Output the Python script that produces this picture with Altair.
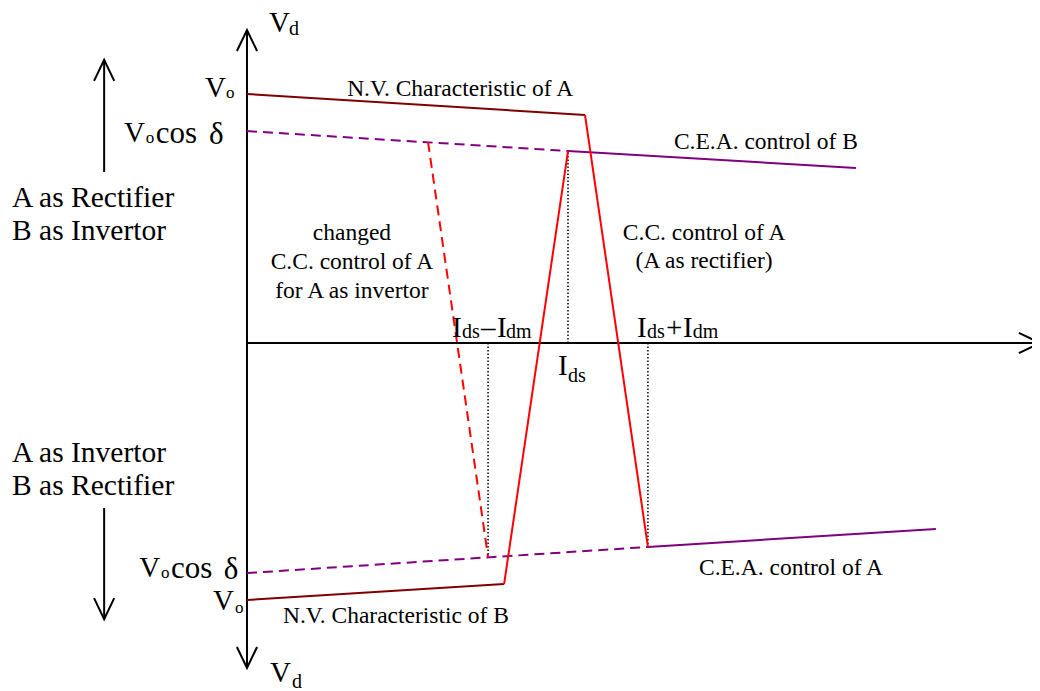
import altair as alt
import pandas as pd

# ---------------- data (current I in units of I_ds, voltage Vd in units of V_o) ----------------
nv_A_I, nv_A_V = [0.0, 1.053], [1.0, 0.916]                 # N.V. characteristic of A
cc_A_I, cc_A_V = [1.053, 1.249], [0.916, -0.819]            # C.C. control of A (rectifier)
cea_B_dash_I, cea_B_dash_V = [0.0, 1.0], [0.851, 0.771]     # C.E.A. of B (dashed part)
cea_B_I, cea_B_V = [1.0, 1.897], [0.771, 0.703]             # C.E.A. control of B
cc_B_I, cc_B_V = [0.801, 1.0], [-0.968, 0.771]              # rising C.C. line
chg_I, chg_V = [0.564, 0.751], [0.807, -0.859]              # changed C.C. control of A
nv_B_I, nv_B_V = [0.0, 0.801], [-1.032, -0.968]             # N.V. characteristic of B
cea_A_dash_I, cea_A_dash_V = [0.0, 1.249], [-0.924, -0.819] # C.E.A. of A (dashed part)
cea_A_I, cea_A_V = [1.249, 2.146], [-0.819, -0.747]         # C.E.A. control of A

# dotted drop lines at I_ds, I_ds-I_dm, I_ds+I_dm
drop_I = [1.0, 0.751, 1.249]
drop_V = [0.771, -0.859, -0.819]

# axes and side arrows
vaxis_I, vaxis_V = [0.0, 0.0], [1.257, -1.305]
haxis_I, haxis_V = [0.0, 2.470], [0.0, 0.0]
up_arrow_I, up_arrow_V = [-0.445, -0.445], [0.687, 1.137]
down_arrow_I, down_arrow_V = [-0.445, -0.445], [-0.663, -1.109]

# arrow tips
tip_up_I, tip_up_V = [0.0, -0.445], [1.257, 1.137]
tip_down_I, tip_down_V = [0.0, -0.445], [-1.305, -1.109]
tip_right_I, tip_right_V = [2.470], [0.0]

# symbol labels (main size)
sym_text = ["V", "V", "V", "V", "V", "V", "I", "–", "I", "I", "+", "I", "I"]
sym_I = [0.0685, -0.131, -0.383, -0.336, -0.106, 0.072,
         0.639, 0.729, 0.779, 1.215, 1.305, 1.358, 0.969]
sym_V = [1.249, 0.988, 0.807, -0.940, -1.072, -1.361,
         0.024, 0.024, 0.024, 0.024, 0.024, 0.024, -0.129]
# subscripts "d", "ds", "dm"
sub_text = ["d", "d", "ds", "dm", "ds", "dm", "ds"]
sub_I = [0.131, 0.140, 0.670, 0.807, 1.246, 1.389, 1.000]
sub_V = [1.237, -1.386, 0.020, 0.020, 0.020, 0.020, -0.157]
# subscripts "o"
subo_I = [-0.065, -0.315, -0.268, -0.037]
subo_V = [0.984, 0.803, -0.944, -1.084]
# "cos δ"
cos_text = ["cos", "δ", "cos", "δ"]
cos_I = [-0.284, -0.118, -0.237, -0.072]
cos_V = [0.803, 0.799, -0.944, -0.948]

# annotations (left aligned)
ann_text = ["N.V. Characteristic of A", "C.E.A. control of B",
            "N.V. Characteristic of B", "C.E.A. control of A"]
ann_I = [0.312, 1.330, 0.112, 1.408]
ann_V = [0.992, 0.779, -1.124, -0.932]
# annotations (centred)
cann_text = ["changed", "C.C. control of A", "for A as invertor",
             "C.C. control of A", "(A as rectifier)"]
cann_I = [0.327, 0.327, 0.327, 1.424, 1.424]
cann_V = [0.414, 0.297, 0.181, 0.414, 0.301]
# operating mode labels
mode_text = ["A as Rectifier", "B as Invertor", "A as Invertor", "B as Rectifier"]
mode_I = [-0.732, -0.732, -0.732, -0.732]
mode_V = [0.546, 0.414, -0.478, -0.610]

# ---------------- chart ----------------
XS = alt.Scale(domain=[-0.7445, 2.4455], nice=False, zero=False)
YS = alt.Scale(domain=[-1.3976, 1.3454], nice=False, zero=False)
FONT = "Liberation Serif"


def segs(pairs):
    rows = []
    for k, (xs, ys) in enumerate(pairs):
        for j, (a, b) in enumerate(zip(xs, ys)):
            rows.append({"seg": k, "idx": j, "I": a, "V": b})
    return pd.DataFrame(rows)


def line_layer(pairs, color, width, dash=None):
    kw = dict(color=color, strokeWidth=width, strokeCap="butt")
    if dash:
        kw["strokeDash"] = dash
    return alt.Chart(segs(pairs)).mark_line(**kw).encode(
        x=alt.X("I:Q", scale=XS, axis=None),
        y=alt.Y("V:Q", scale=YS, axis=None),
        detail="seg:N",
        order="idx:Q",
    )


def text_layer(texts, xs, ys, size, align="left"):
    df = pd.DataFrame({"t": texts, "I": xs, "V": ys})
    return alt.Chart(df).mark_text(font=FONT, fontSize=size, align=align,
                                   baseline="alphabetic", color="black").encode(
        x=alt.X("I:Q", scale=XS, axis=None),
        y=alt.Y("V:Q", scale=YS, axis=None),
        text="t:N",
    )


def tip_layer(xs, ys, path):
    df = pd.DataFrame({"I": xs, "V": ys})
    return alt.Chart(df).mark_point(shape=path, size=1764, filled=False,
                                    stroke="black", strokeWidth=2, opacity=1).encode(
        x=alt.X("I:Q", scale=XS, axis=None),
        y=alt.Y("V:Q", scale=YS, axis=None),
    )


drops = [([i, i], [0.0, v]) for i, v in zip(drop_I, drop_V)]

layers = [
    line_layer([(vaxis_I, vaxis_V), (haxis_I, haxis_V),
                (up_arrow_I, up_arrow_V), (down_arrow_I, down_arrow_V)], "black", 2),
    line_layer(drops, "black", 1.5, [1.5, 2]),
    line_layer([(cea_B_dash_I, cea_B_dash_V), (cea_A_dash_I, cea_A_dash_V)], "#800080", 2, [10, 6]),
    line_layer([(cea_B_I, cea_B_V), (cea_A_I, cea_A_V)], "#800080", 2),
    line_layer([(nv_A_I, nv_A_V), (nv_B_I, nv_B_V)], "#800000", 2),
    line_layer([(chg_I, chg_V)], "#FF0000", 2, [10, 6]),
    line_layer([(cc_A_I, cc_A_V), (cc_B_I, cc_B_V)], "#FF0000", 2),
    tip_layer(tip_up_I, tip_up_V, "M -0.48 1 L 0 0 L 0.48 1"),
    tip_layer(tip_down_I, tip_down_V, "M -0.48 -1 L 0 0 L 0.48 -1"),
    tip_layer(tip_right_I, tip_right_V, "M -1 -0.48 L 0 0 L -1 0.48"),
    text_layer(sym_text, sym_I, sym_V, 29),
    text_layer(sub_text, sub_I, sub_V, 20),
    text_layer(["o"] * len(subo_I), subo_I, subo_V, 17),
    text_layer(cos_text, cos_I, cos_V, 31),
    text_layer(ann_text, ann_I, ann_V, 23.5),
    text_layer(cann_text, cann_I, cann_V, 23.5, align="center"),
    text_layer(mode_text, mode_I, mode_V, 29.5),
]

chart = alt.layer(*layers).properties(
    width=1024, height=683,
    autosize=alt.AutoSizeParams(type="none"),
    padding=0,
    background="white",
).configure_view(stroke=None)

chart.save("out.html", embed_options={"renderer": "svg", "actions": False})
